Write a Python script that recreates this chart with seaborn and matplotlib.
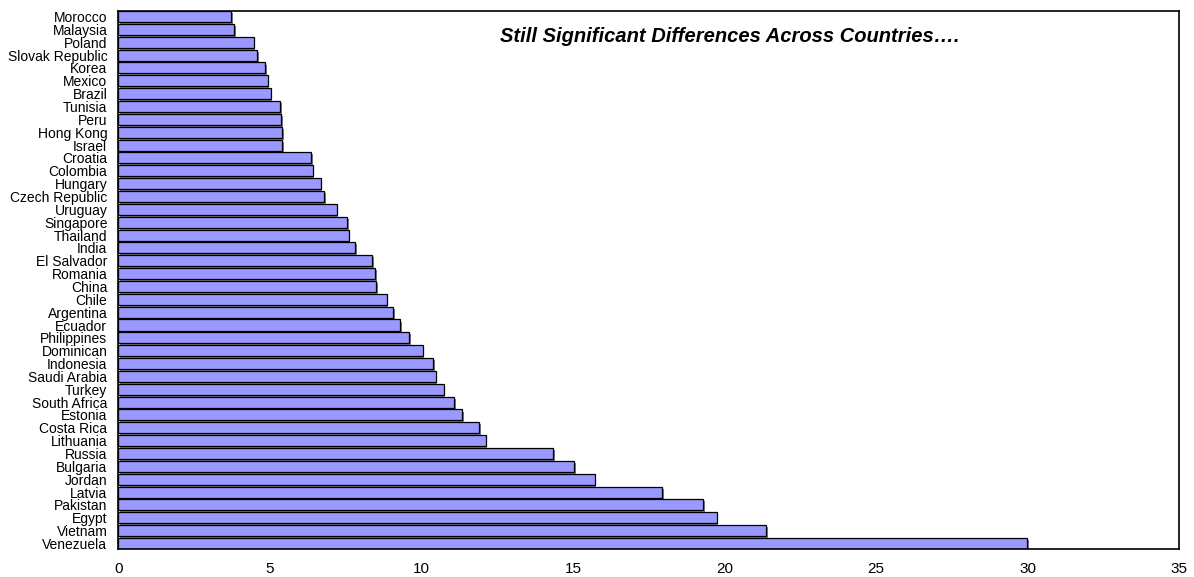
import matplotlib
matplotlib.use("Agg")
import matplotlib.pyplot as plt
import matplotlib.patheffects as pe
import pandas as pd
import seaborn as sns

countries = [
    "Morocco", "Malaysia", "Poland", "Slovak Republic", "Korea", "Mexico",
    "Brazil", "Tunisia", "Peru", "Hong Kong", "Israel", "Croatia", "Colombia",
    "Hungary", "Czech Republic", "Uruguay", "Singapore", "Thailand", "India",
    "El Salvador", "Romania", "China", "Chile", "Argentina", "Ecuador",
    "Philippines", "Dominican", "Indonesia", "Saudi Arabia", "Turkey",
    "South Africa", "Estonia", "Costa Rica", "Lithuania", "Russia", "Bulgaria",
    "Jordan", "Latvia", "Pakistan", "Egypt", "Vietnam", "Venezuela",
]
values = [
    3.71, 3.81, 4.46, 4.58, 4.84, 4.93,
    5.02, 5.33, 5.36, 5.41, 5.41, 6.36, 6.41,
    6.67, 6.80, 7.20, 7.55, 7.60, 7.82,
    8.37, 8.47, 8.51, 8.85, 9.07, 9.29,
    9.59, 10.04, 10.38, 10.47, 10.73,
    11.07, 11.34, 11.90, 12.12, 14.34, 15.03,
    15.72, 17.94, 19.30, 19.74, 21.37, 29.98,
]
x_ticks = [0, 5, 10, 15, 20, 25, 30, 35]
title_text = "Still Significant Differences Across Countries…."

df = pd.DataFrame({"country": countries, "value": values})

sns.set_style("white")
plt.rcParams["font.family"] = ["Liberation Sans", "DejaVu Sans"]
plt.rcParams["text.color"] = "black"
plt.rcParams["xtick.color"] = "black"
plt.rcParams["ytick.color"] = "black"

fig = plt.figure(figsize=(11.94, 5.77), dpi=100)
ax = fig.add_axes([0.0992, 0.0485, 0.8882, 0.9324])

bar_width = 0.86
sns.barplot(data=df, x="value", y="country", orient="h", order=countries,
            color="#9999FF", saturation=1, width=bar_width,
            edgecolor="black", linewidth=0.9, ax=ax)

# soft grey drop shadow under each bar
for patch in ax.patches:
    patch.set_path_effects([
        pe.SimplePatchShadow(offset=(1.2, -1.5), shadow_rgbFace="#6e6e6e", alpha=0.9),
        pe.Normal(),
    ])

ax.set_xlim(0, 35)
ax.set_ylim(len(countries) - 1 + bar_width / 2, -bar_width / 2)
ax.set_xticks(x_ticks)
ax.set_xticklabels([str(t) for t in x_ticks], fontsize=11)
ax.tick_params(axis="x", direction="in", length=4, width=1, color="black", pad=9)
ax.tick_params(axis="y", length=0, pad=8, labelsize=10)
ax.set_xlabel("")
ax.set_ylabel("")

for side in ["left", "right", "top", "bottom"]:
    ax.spines[side].set_visible(True)
    ax.spines[side].set_color("black")
    ax.spines[side].set_linewidth(1.2)

ax.text(0.576, 0.952, title_text, transform=ax.transAxes, ha="center", va="center",
        fontsize=14.5, fontweight="bold", fontstyle="italic", color="black")

fig.savefig("out.png", dpi=100)
